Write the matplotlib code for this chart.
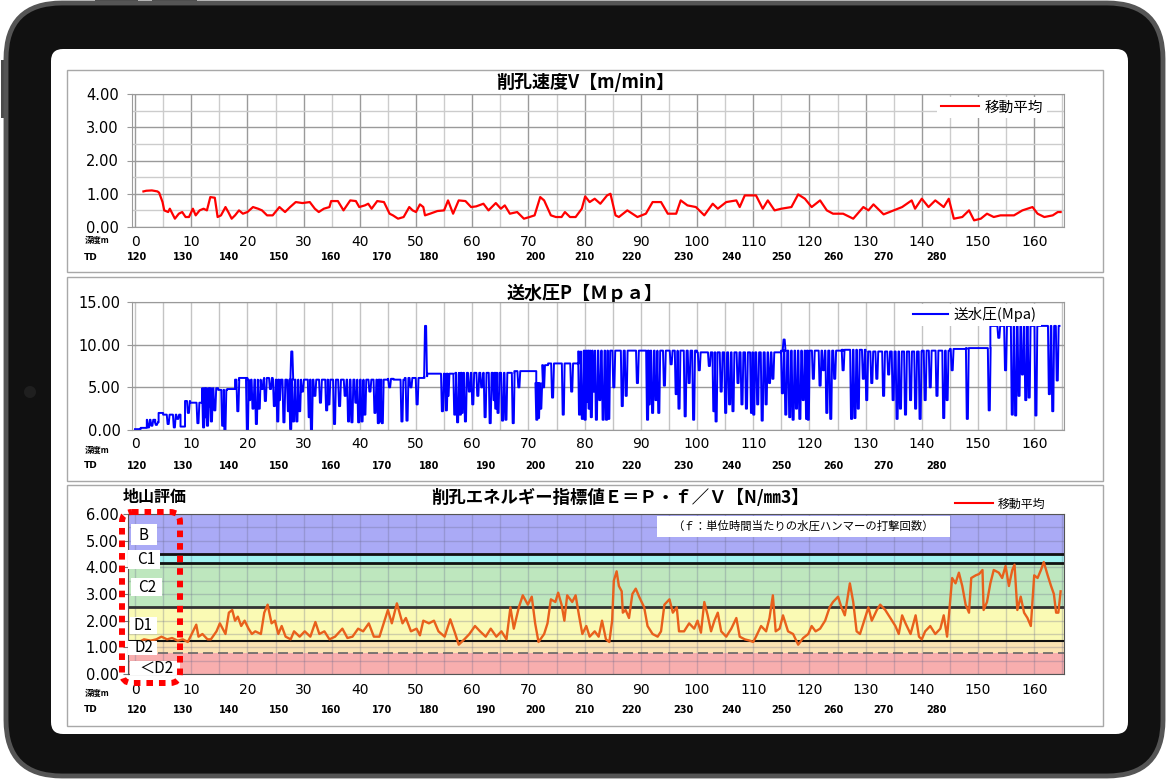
import matplotlib
matplotlib.use('Agg')
import matplotlib.pyplot as plt
from matplotlib.patches import FancyBboxPatch, Rectangle, Circle
from matplotlib.lines import Line2D
from matplotlib.transforms import blended_transform_factory
from matplotlib.ticker import MultipleLocator

plt.rcParams['font.family'] = ['DejaVu Sans', 'Noto Sans CJK JP']
JP = ['Noto Sans CJK JP', 'DejaVu Sans']

# ---------------- data ----------------
DEPTH_TICKS = list(range(0, 161, 10))
TD_LABELS = [120, 130, 140, 150, 160, 170, 180, 190, 200, 210, 220, 230, 240, 250, 260, 270, 280]
TD_DEPTH = [0.3, 8.6, 16.7, 25.6, 34.8, 44.0, 52.3, 62.5, 71.3, 80.0, 88.4, 97.5, 106.2, 115.1, 124.2, 133.1, 142.6]

V_POINTS = [(1.5, 1.07), (2.0, 1.09), (3.0, 1.1), (4.0, 1.07), (4.3, 1.03), (4.9, 0.75), (5.2, 0.5), (5.9, 0.45),
            (6.2, 0.55), (7.1, 0.25), (7.8, 0.4), (8.4, 0.45), (9.0, 0.3), (9.6, 0.3), (10.3, 0.55), (10.8, 0.35),
            (11.5, 0.5), (12.2, 0.55), (12.8, 0.5), (13.4, 0.9), (14.2, 0.88), (14.7, 0.3), (15.3, 0.35), (16.1, 0.6),
            (16.6, 0.45), (17.2, 0.25), (17.8, 0.35), (18.5, 0.5), (19.2, 0.4), (20.0, 0.45), (21.0, 0.6), (21.9, 0.55),
            (22.6, 0.5), (23.5, 0.35), (24.5, 0.35), (25.7, 0.6), (26.7, 0.45), (27.6, 0.6), (28.6, 0.75), (29.8, 0.72),
            (31.1, 0.75), (32.0, 0.55), (32.7, 0.45), (33.6, 0.55), (34.6, 0.6), (34.9, 0.78), (36.1, 0.78), (37.1, 0.5),
            (38.3, 0.8), (39.3, 0.78), (39.9, 0.6), (40.9, 0.65), (41.5, 0.7), (42.1, 0.55), (43.1, 0.78), (44.3, 0.75),
            (45.3, 0.4), (45.9, 0.35), (46.8, 0.25), (47.8, 0.3), (48.8, 0.6), (49.4, 0.5), (50.0, 0.45), (50.7, 0.68),
            (51.3, 0.6), (51.6, 0.35), (52.5, 0.4), (53.8, 0.48), (55.0, 0.5), (55.7, 0.8), (56.6, 0.4), (57.6, 0.8),
            (58.8, 0.78), (59.8, 0.6), (60.7, 0.62), (62.0, 0.7), (62.9, 0.5), (64.2, 0.72), (65.1, 0.55), (65.8, 0.65),
            (66.7, 0.4), (68.0, 0.45), (69.2, 0.25), (70.2, 0.3), (71.1, 0.35), (72.1, 0.9), (72.8, 0.8), (74.0, 0.35),
            (74.9, 0.3), (75.9, 0.3), (76.5, 0.45), (77.4, 0.3), (78.4, 0.3), (79.5, 0.55), (80.1, 0.92), (80.9, 0.75),
            (81.8, 0.85), (82.8, 0.7), (84.0, 0.95), (84.6, 1.0), (85.5, 0.35), (86.1, 0.3), (87.6, 0.5), (88.5, 0.4),
            (89.4, 0.3), (90.9, 0.4), (92.1, 0.75), (93.6, 0.75), (94.8, 0.4), (96.3, 0.4), (97.1, 0.8), (98.3, 0.65),
            (99.8, 0.6), (101.3, 0.35), (102.8, 0.7), (103.7, 0.55), (105.2, 0.75), (107.0, 0.8), (107.6, 0.6),
            (108.5, 0.95), (110.5, 0.95), (111.7, 0.55), (112.6, 0.8), (113.8, 0.5), (115.0, 0.55), (116.8, 0.6),
            (118.0, 0.98), (119.2, 0.85), (120.4, 0.6), (121.9, 0.8), (123.1, 0.5), (124.2, 0.4), (126.0, 0.4),
            (127.8, 0.25), (129.6, 0.6), (130.5, 0.5), (131.4, 0.68), (133.2, 0.38), (135.0, 0.5), (136.5, 0.6),
            (138.2, 0.8), (138.8, 0.55), (140.0, 0.85), (141.2, 0.6), (142.4, 0.8), (143.9, 0.6), (144.8, 0.85),
            (145.7, 0.25), (147.2, 0.3), (148.4, 0.5), (149.3, 0.2), (150.5, 0.25), (151.6, 0.4), (152.8, 0.3),
            (154.0, 0.35), (156.4, 0.35), (157.9, 0.5), (159.7, 0.6), (160.6, 0.4), (161.8, 0.3), (163.3, 0.35),
            (164.2, 0.45), (164.7, 0.45)]

P_BASE = [(0.0, 0.1), (1.0, 0.25), (2.1, 1.2), (3.6, 0.9), (4.2, 2.0), (5.0, 1.8), (8.1, 0.4), (8.9, 3.4),
          (9.8, 3.2), (12.0, 4.9), (14.8, 4.7), (16.4, 4.8), (17.8, 5.9), (18.5, 6.1), (20.0, 5.9), (23.0, 6.1),
          (24.5, 5.9), (45.0, 6.0), (46.0, 5.9), (48.0, 6.1), (51.5, 6.3), (52.0, 6.6), (57.0, 6.7), (67.5, 6.9),
          (71.4, 5.5), (72.6, 7.6), (73.5, 7.8), (79.0, 9.2), (80.0, 9.3), (100.0, 9.1), (115.0, 9.3), (126.0, 9.4),
          (130.0, 9.2), (140.0, 9.3), (145.0, 9.5), (148.0, 9.6), (152.2, 12.2)]
P_END = 164.5
P_SPIKES = [(2.4, 0.3), (3.0, 0.5), (3.8, 0.6), (5.9, 0.7), (7.0, 0.3), (7.6, 1.3), (9.5, 2.0), (11.2, 0.8),
            (12.2, 0.3), (12.5, 1.5), (12.9, 0.5), (13.3, 2.8), (13.6, 1.0), (14.2, 2.3), (15.6, 0.5), (16.0, 0.0),
            (18.3, 2.2), (20.0, 0.0), (20.4, 3.5), (21.0, 2.5), (21.6, 0.7), (22.1, 2.5), (22.6, 4.8), (23.2, 3.4),
            (24.1, 4.8), (24.8, 2.8), (25.4, 1.0), (25.7, 3.5), (26.5, 0.9), (27.3, 2.2), (27.7, 0.1), (27.9, 9.2),
            (28.2, 1.0), (28.8, 1.0), (29.3, 2.2), (29.8, 4.5), (31.0, 1.5), (31.4, 0.0), (32.0, 4.0), (33.0, 3.2),
            (34.1, 2.3), (34.5, 3.0), (35.5, 0.7), (36.4, 2.8), (37.4, 4.0), (38.0, 1.0), (38.6, 0.9), (39.3, 3.2),
            (39.8, 0.9), (40.4, 1.0), (40.9, 1.8), (41.8, 4.5), (42.7, 2.0), (43.3, 0.8), (43.6, 1.0), (44.0, 0.8),
            (45.3, 5.0), (47.5, 1.0), (48.4, 1.1), (49.1, 5.0), (50.2, 3.0), (51.7, 12.2), (54.7, 2.2), (55.4, 2.3),
            (55.7, 4.0), (56.9, 1.8), (57.4, 0.9), (57.9, 1.8), (58.2, 2.0), (58.8, 1.0), (59.5, 4.5), (60.1, 3.0),
            (61.0, 4.0), (61.7, 5.0), (62.3, 1.5), (63.2, 0.8), (63.9, 3.5), (64.2, 2.5), (64.6, 2.0), (65.4, 1.1),
            (66.0, 1.2), (67.3, 0.8), (68.3, 5.0), (71.5, 1.2), (71.8, 1.4), (72.2, 2.5), (72.7, 5.0), (74.3, 3.8),
            (76.2, 1.8), (77.7, 4.5), (79.1, 1.8), (79.6, 1.3), (80.1, 1.2), (80.5, 3.3), (80.8, 2.5), (81.2, 1.5),
            (81.6, 4.5), (82.1, 1.2), (82.7, 3.5), (83.3, 1.2), (83.9, 1.2), (84.3, 1.3), (85.2, 5.0), (86.7, 2.8),
            (87.4, 4.0), (89.4, 5.5), (91.2, 1.2), (91.5, 3.0), (92.1, 2.0), (92.7, 3.5), (93.2, 2.0), (94.2, 5.2),
            (95.4, 7.7), (96.3, 4.2), (96.8, 2.5), (97.9, 1.6), (98.6, 5.5), (99.4, 1.2), (100.4, 7.0), (102.2, 7.5),
            (103.0, 2.2), (103.4, 1.0), (104.3, 4.5), (105.1, 2.0), (105.8, 3.0), (106.4, 2.2), (107.3, 5.5),
            (108.0, 3.0), (108.8, 2.5), (109.7, 2.0), (110.1, 1.8), (110.8, 3.0), (111.6, 1.1), (112.3, 3.0),
            (112.9, 5.5), (113.5, 6.0), (115.2, 4.3), (115.5, 10.6), (115.8, 1.8), (116.5, 1.5), (117.1, 1.2),
            (117.7, 2.5), (118.3, 1.3), (118.9, 3.5), (119.5, 1.3), (119.8, 1.2), (120.7, 6.0), (121.9, 5.2),
            (122.5, 7.0), (123.1, 2.0), (123.8, 1.3), (124.5, 6.0), (126.0, 7.0), (127.5, 1.3), (128.1, 1.4),
            (128.7, 2.5), (129.6, 6.0), (130.2, 3.5), (131.1, 5.5), (132.0, 6.0), (133.2, 4.0), (134.1, 6.5),
            (134.9, 3.5), (135.6, 1.3), (136.2, 2.5), (137.1, 1.8), (138.0, 3.5), (138.9, 2.5), (139.7, 1.3),
            (140.6, 3.5), (141.5, 5.0), (142.7, 4.0), (143.9, 1.4), (144.5, 3.5), (145.4, 7.0), (148.1, 1.3),
            (152.0, 2.3), (153.7, 10.8), (154.9, 7.0), (156.1, 1.8), (156.7, 1.7), (157.3, 4.0), (157.9, 6.5),
            (158.5, 3.5), (159.1, 3.8), (160.3, 1.7), (162.7, 4.2), (163.3, 2.2), (164.1, 5.8)]

E_POINTS = [(0.3, 1.15), (1.6, 1.3), (2.8, 1.25), (3.8, 1.3), (4.7, 1.4), (5.7, 1.3), (6.6, 1.35), (7.6, 1.25),
            (8.5, 1.3), (9.4, 1.2), (10.1, 1.5), (10.9, 1.85), (11.3, 1.4), (12.0, 1.5), (12.9, 1.3), (13.5, 1.3),
            (14.5, 1.6), (15.1, 1.9), (16.1, 1.5), (16.7, 2.3), (17.3, 2.4), (17.8, 2.0), (18.3, 2.15), (18.9, 1.8),
            (19.5, 2.0), (20.2, 1.7), (20.8, 1.5), (21.4, 1.6), (22.4, 1.5), (23.0, 2.3), (23.6, 2.6), (24.3, 1.9),
            (24.9, 2.0), (25.5, 1.5), (26.1, 1.8), (26.8, 1.4), (27.7, 1.3), (28.3, 1.6), (29.3, 1.4), (30.2, 1.6),
            (31.2, 1.4), (32.1, 1.95), (32.8, 1.5), (33.7, 1.6), (34.6, 1.3), (35.6, 1.4), (36.9, 1.7), (37.8, 1.35),
            (38.7, 1.4), (39.7, 1.7), (40.6, 1.6), (41.6, 1.9), (42.5, 1.4), (43.5, 1.4), (44.4, 2.0), (45.0, 2.4),
            (45.7, 1.9), (46.6, 2.65), (47.6, 1.9), (48.2, 2.1), (49.1, 1.6), (50.1, 1.7), (50.7, 1.45), (51.3, 2.0),
            (52.3, 1.9), (53.2, 2.0), (54.0, 1.6), (55.1, 1.4), (56.1, 2.05), (57.0, 1.5), (57.6, 1.1), (58.6, 1.3),
            (59.5, 1.5), (60.5, 1.8), (61.4, 1.6), (62.4, 1.4), (63.3, 1.7), (64.3, 1.4), (65.2, 1.6), (66.1, 1.3),
            (66.8, 2.5), (67.4, 1.7), (68.3, 2.5), (69.0, 2.95), (69.9, 2.6), (70.6, 2.9), (71.2, 1.9), (71.8, 1.2),
            (72.8, 1.5), (73.4, 1.9), (74.0, 2.8), (74.8, 2.7), (75.3, 3.05), (75.9, 2.6), (76.4, 2.0), (76.9, 2.95),
            (77.8, 2.7), (78.4, 2.95), (79.0, 2.2), (79.6, 1.5), (80.3, 1.8), (80.9, 1.4), (81.8, 1.6), (82.5, 1.4),
            (83.1, 2.0), (83.8, 1.3), (84.4, 1.2), (84.9, 2.0), (85.2, 3.5), (85.7, 3.85), (86.1, 3.3), (86.6, 3.1),
            (86.8, 2.3), (87.3, 2.4), (87.9, 2.1), (88.5, 3.0), (89.1, 3.2), (89.7, 2.9), (90.6, 2.5), (91.2, 1.8),
            (92.1, 1.5), (93.0, 1.4), (93.6, 1.6), (94.2, 2.6), (95.1, 2.8), (95.7, 2.3), (96.4, 2.5), (96.8, 1.6),
            (97.7, 1.6), (98.6, 1.9), (99.5, 1.7), (100.1, 2.0), (100.7, 1.55), (101.3, 2.7), (101.9, 2.2),
            (102.5, 1.6), (103.1, 2.0), (103.7, 2.3), (104.3, 1.6), (105.2, 1.4), (106.1, 1.7), (107.0, 2.1),
            (107.6, 1.4), (108.5, 1.3), (109.4, 1.25), (110.0, 1.2), (110.5, 1.4), (111.4, 1.8), (112.3, 1.6),
            (112.9, 2.1), (113.5, 2.95), (114.0, 1.6), (114.7, 1.7), (115.3, 2.2), (116.2, 1.6), (117.1, 1.5),
            (118.0, 1.1), (118.9, 1.35), (119.8, 1.5), (120.4, 1.8), (121.1, 1.6), (121.9, 1.7), (122.8, 2.0),
            (123.6, 2.5), (124.2, 2.7), (125.1, 2.9), (125.7, 2.5), (126.3, 2.2), (127.2, 3.4), (127.8, 2.7),
            (128.4, 1.6), (129.0, 1.5), (129.9, 2.1), (130.5, 2.5), (131.1, 2.0), (132.0, 2.4), (132.6, 2.6),
            (133.5, 2.4), (134.4, 2.1), (135.3, 1.8), (135.9, 1.5), (136.5, 2.2), (137.1, 1.9), (138.0, 1.5),
            (138.9, 2.2), (139.5, 1.4), (140.0, 1.3), (140.6, 1.6), (141.5, 1.8), (142.4, 1.5), (143.3, 1.7),
            (143.9, 2.2), (144.5, 1.4), (145.0, 2.6), (145.4, 3.6), (146.0, 3.4), (146.6, 3.8), (147.2, 3.3),
            (147.8, 2.6), (148.4, 2.3), (148.8, 3.6), (149.6, 3.7), (150.2, 3.75), (150.8, 3.9), (151.0, 2.4),
            (151.6, 2.7), (152.2, 3.4), (152.8, 3.9), (153.7, 3.8), (154.3, 3.6), (154.9, 4.05), (155.5, 3.3),
            (156.1, 3.9), (156.5, 4.1), (157.0, 2.4), (157.6, 2.9), (158.2, 2.3), (158.8, 2.1), (159.4, 1.8),
            (160.0, 3.7), (160.6, 3.6), (161.2, 3.9), (161.7, 4.2), (162.4, 3.7), (163.0, 3.3), (163.5, 3.0),
            (163.9, 2.3), (164.3, 2.3), (164.7, 3.1)]

GRADE_NAMES = ['B', 'C1', 'C2', 'D1', 'D2', '＜D2']
BAND_EDGES = [6.0, 4.5, 4.15, 2.5, 1.25, 0.8, 0.0]
BAND_COLORS = ['#aaaaf6', '#a0f2f0', '#bee7be', '#fafab4', '#fbe3b3', '#f8aeae']

# ---------------- figure / frame ----------------
W, H = 1169, 780
fig = plt.figure(figsize=(W / 100, H / 100), dpi=100)
fig.patch.set_facecolor('white')

bg = fig.add_axes([0, 0, 1, 1], zorder=0)
bg.set_xlim(0, W)
bg.set_ylim(H, 0)
bg.axis('off')

for rx, ry, rw, rh in [(95, 0, 43, 4), (152, 0, 45, 4), (1, 60, 5, 58)]:
    bg.add_patch(Rectangle((rx, ry), rw, rh, fc='#4a4a4a', ec='none'))
bg.add_patch(FancyBboxPatch((6, 3), 1157, 773, boxstyle='round,pad=0,rounding_size=56',
                            fc='#111111', ec='#555555', lw=3.5))
bg.add_patch(FancyBboxPatch((51, 49), 1077, 685, boxstyle='round,pad=0,rounding_size=12',
                            fc='white', ec='none'))
bg.add_patch(Circle((30, 392), 6, fc='#1f1f1f', ec='none'))

for (t, b) in [(70, 272), (277, 481), (485, 726)]:
    bg.add_patch(Rectangle((67, t), 1036, b - t, fc='white', ec='#a8a8a8', lw=1.0))

X0, PXU = 135.0, 5.62
XR = 165.3


def make_axes(xmin, top, bottom):
    left = X0 + xmin * PXU
    right = X0 + XR * PXU
    ax = fig.add_axes([left / W, 1 - bottom / H, (right - left) / W, (bottom - top) / H], zorder=2)
    ax.set_xlim(xmin, XR)
    return ax


def depth_axis(ax, pad, td_y, lab_y):
    ax.set_xticks(DEPTH_TICKS)
    ax.set_xticklabels([str(v) for v in DEPTH_TICKS], fontsize=10)
    ax.xaxis.set_minor_locator(MultipleLocator(5))
    ax.tick_params(axis='x', which='both', length=0, pad=pad)
    tr = blended_transform_factory(ax.transData, bg.transData)
    for lab, d in zip(TD_LABELS, TD_DEPTH):
        ax.text(d, td_y, str(lab), transform=tr, fontsize=7, fontweight='bold',
                ha='center', va='center', clip_on=False)
    bg.text(97, lab_y, '深度m', fontsize=6, fontweight='bold', family=JP, ha='center', va='center')
    bg.text(91, td_y, 'TD', fontsize=6.5, fontweight='bold', ha='center', va='center')


# ---------------- panel 1 ----------------
ax1 = make_axes(-0.5, 94, 227)
ax1.set_ylim(0, 4)
ax1.set_yticks([0, 1, 2, 3, 4])
ax1.set_yticklabels(['%.2f' % v for v in [0, 1, 2, 3, 4]], fontsize=10.5)
ax1.yaxis.set_minor_locator(MultipleLocator(0.5))
ax1.tick_params(axis='y', which='major', length=3.5, color='#999999', pad=6)
ax1.tick_params(axis='y', which='minor', length=0)
ax1.grid(which='major', color='#9a9a9a', lw=1)
ax1.grid(which='minor', color='#cccccc', lw=1)
for s in ax1.spines.values():
    s.set_color('#9a9a9a')
vd, vv = zip(*V_POINTS)
ax1.plot(vd, vv, color='#ff0000', lw=1.6)
depth_axis(ax1, 5.5, 257.5, 240.5)
ax1.legend([Line2D([0], [0], color='#ff0000', lw=1.5)], ['移動平均'], loc='center',
           bbox_to_anchor=(992 / W, 1 - 107.5 / H), bbox_transform=fig.transFigure,
           prop={'family': JP, 'size': 10.5}, frameon=True, facecolor='white', edgecolor='none',
           framealpha=1, fancybox=False, handlelength=2.6, handletextpad=0.4, borderpad=0.25)
bg.text(585, 82, '削孔速度V【m/min】', family=JP, fontsize=13, fontweight='bold', ha='center', va='center')

# ---------------- panel 2 ----------------
ax2 = make_axes(-0.5, 302, 430)
ax2.set_ylim(0, 15)
ax2.set_yticks([0, 5, 10, 15])
ax2.set_yticklabels(['%.2f' % v for v in [0, 5, 10, 15]], fontsize=10.5)
ax2.tick_params(axis='y', length=3.5, color='#999999', pad=5)
ax2.grid(which='major', axis='y', color='#9a9a9a', lw=1)
ax2.grid(which='both', axis='x', color='#c4c4c4', lw=1)
for s in ax2.spines.values():
    s.set_color('#9a9a9a')

px, py = [], []
bdep = [b[0] for b in P_BASE] + [P_END]
for i, (d0, lvl) in enumerate(P_BASE):
    d1 = bdep[i + 1]
    px.append(d0)
    py.append(lvl)
    for sd, sv in P_SPIKES:
        if d0 <= sd < d1:
            px += [sd - 0.25, sd - 0.1, sd + 0.1, sd + 0.25]
            py += [lvl, sv, sv, lvl]
    px.append(d1)
    py.append(lvl)
ax2.plot(px, py, color='#0000ff', lw=1.4)
depth_axis(ax2, 5, 466, 450)
ax2.legend([Line2D([0], [0], color='#0000ff', lw=1.5)], ['送水圧(Mpa)'], loc='center',
           bbox_to_anchor=(975 / W, 1 - 315 / H), bbox_transform=fig.transFigure,
           prop={'family': JP, 'size': 10.5}, frameon=True, facecolor='white', edgecolor='none',
           framealpha=1, fancybox=False, handlelength=2.4, handletextpad=0.4, borderpad=0.25)
bg.text(585, 293, '送水圧P【Ｍｐａ】', family=JP, fontsize=13, fontweight='bold', ha='center', va='center')

# ---------------- panel 3 ----------------
ax3 = make_axes(-1.2, 514, 674)
ax3.set_ylim(0, 6)
for top_e, bot_e, col in zip(BAND_EDGES[:-1], BAND_EDGES[1:], BAND_COLORS):
    ax3.axhspan(bot_e, top_e, color=col, lw=0, zorder=0.5)
ax3.set_yticks([0, 1, 2, 3, 4, 5, 6])
ax3.set_yticklabels(['%.2f' % v for v in range(7)], fontsize=10.5)
ax3.yaxis.set_minor_locator(MultipleLocator(0.5))
ax3.tick_params(axis='y', which='major', length=3.5, color='#777777', pad=3.5)
ax3.tick_params(axis='y', which='minor', length=0)
ax3.grid(which='both', color='#6a6a8a', lw=1, alpha=0.3)
for s in ax3.spines.values():
    s.set_color('#555555')
for yv, c, lw, ls in [(4.5, '#111111', 2, '-'), (4.15, '#111111', 2, '-'), (2.5, '#333333', 2, '-'),
                      (1.25, '#111111', 1.5, '-'), (0.8, '#666666', 1.2, (0, (6, 3)))]:
    ax3.axhline(yv, color=c, lw=lw, ls=ls, zorder=2)
ed, ev = zip(*E_POINTS)
ax3.plot(ed, ev, color='#e8601c', lw=1.7, zorder=3)
depth_axis(ax3, 6.3, 710, 693)
ax3.legend([Line2D([0], [0], color='#ff0000', lw=1.5)], ['移動平均'], loc='center',
           bbox_to_anchor=(1000 / W, 1 - 504 / H), bbox_transform=fig.transFigure,
           prop={'family': JP, 'size': 8.6}, frameon=False, handlelength=3.2, handletextpad=0.4)

# grade label boxes
boxes = [(131, 524, 157, 545), (128, 550, 160, 569), (131, 578, 162, 596),
         (130, 617, 157, 634), (128, 641, 157, 655), (130, 661, 180, 675)]
centers = [(144, 535), (146, 560), (147, 587), (143, 626), (144, 648), (156, 668)]
for name, (l, t, r, b), (cx, cy) in zip(GRADE_NAMES, boxes, centers):
    ax3.add_patch(Rectangle((l, t), r - l, b - t, fc='white', ec='none', transform=bg.transData,
                            zorder=9, clip_on=False))
    ax3.text(cx, cy, name, transform=bg.transData, family=JP, fontsize=11, ha='center', va='center',
             zorder=10, clip_on=False)

ax3.add_patch(Rectangle((657, 516), 293, 21, fc='white', ec='none', transform=bg.transData, zorder=9))
ax3.text(803, 526.5, '（ｆ：単位時間当たりの水圧ハンマーの打撃回数）', transform=bg.transData, family=JP,
         fontsize=8.2, ha='center', va='center', zorder=10)

bg.text(620, 498, '削孔エネルギー指標値Ｅ＝Ｐ・ｆ／Ｖ【N/㎜3】', family=JP, fontsize=12.5,
        fontweight='bold', ha='center', va='center')
bg.text(155, 497, '地山評価', family=JP, fontsize=11.5, fontweight='bold', ha='center', va='center')

# red dotted frame on top
top = fig.add_axes([0, 0, 1, 1], zorder=20)
top.set_xlim(0, W)
top.set_ylim(H, 0)
top.axis('off')
top.patch.set_alpha(0)
top.add_patch(FancyBboxPatch((122, 512), 58, 171, boxstyle='round,pad=0,rounding_size=10',
                             fill=False, ec='#ff0000', lw=4.3, ls=(0, (1.1, 1.0)), capstyle='butt'))

fig.savefig('out.png', dpi=100)
